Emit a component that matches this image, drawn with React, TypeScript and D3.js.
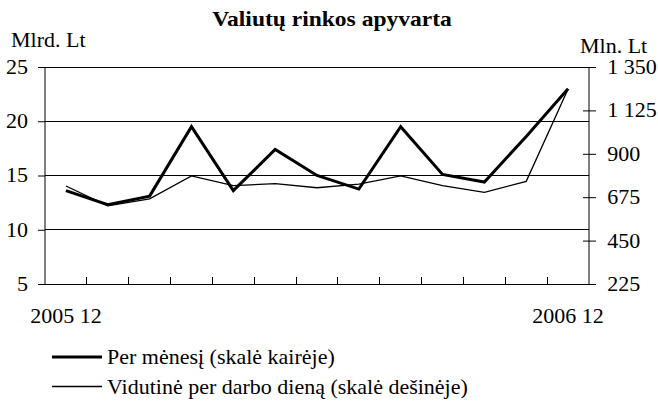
import React, { useEffect, useRef } from 'react';
import * as d3 from 'd3';

const months = [
  '2005 12', '2006 01', '2006 02', '2006 03', '2006 04', '2006 05', '2006 06',
  '2006 07', '2006 08', '2006 09', '2006 10', '2006 11', '2006 12',
];
// Mlrd. Lt, left scale
const perMonth = [13.6, 12.3, 13.1, 19.5, 13.6, 17.4, 15.0, 13.75, 19.5, 15.1, 14.4, 18.6, 23.0];
// Mln. Lt, right scale
const perDay = [733, 630, 666, 785, 735, 745, 724, 743, 785, 735, 700, 757, 1236];

const leftTicks = [5, 10, 15, 20, 25];
const rightTicks = [225, 450, 675, 900, 1125, 1350];
const shownLabels = ['2005 12', '2006 12'];

const W = 658;
const H = 403;
const FONT = '"Liberation Serif", "Times New Roman", serif';
const SX = 1.1; // the source text is a bit wider than plain Times

export default function App() {
  const svgRef = useRef<SVGSVGElement>(null);

  useEffect(() => {
    const svg = d3.select(svgRef.current);
    svg.selectAll('*').remove();

    const left = 45, right = 589, top = 67, bottom = 284;

    const x = d3.scaleBand<string>().domain(months).range([left, right]);
    const yL = d3.scaleLinear().domain([5, 25]).range([bottom, top]);
    const yR = d3.scaleLinear().domain([225, 1350]).range([bottom, top]);

    const label = (tx: number, ty: number, txt: string, size = 20, anchor = 'start', bold = false, sx = SX) =>
      svg.append('text')
        .attr('transform', `translate(${tx},${ty}) scale(${sx},1)`)
        .attr('text-anchor', anchor)
        .style('font-family', FONT)
        .style('font-size', `${size}px`)
        .style('font-weight', bold ? 'bold' : 'normal')
        .text(txt);

    // title + units
    label(332, 26, 'Valiutų rinkos apyvarta', 21, 'middle', true, 1.12);
    label(11, 47, 'Mlrd. Lt');
    label(580, 53, 'Mln. Lt');

    // gridlines
    svg.append('g').selectAll('line')
      .data(leftTicks.filter(d => d > 5))
      .enter().append('line')
      .attr('x1', left).attr('x2', right)
      .attr('y1', d => yL(d)).attr('y2', d => yL(d))
      .attr('stroke', '#000').attr('stroke-width', 1)
      .attr('shape-rendering', 'crispEdges');

    // left axis
    const gl = svg.append('g')
      .attr('transform', `translate(${left},0)`)
      .call(d3.axisLeft(yL).tickValues(leftTicks).tickSize(7).tickPadding(8.5).tickFormat(d3.format('d')));
    gl.select('.domain').remove();
    gl.append('line').attr('y1', top).attr('y2', bottom).attr('stroke', '#000');

    // right axis
    const gr = svg.append('g')
      .attr('transform', `translate(${right},0)`)
      .call(d3.axisRight(yR).tickValues(rightTicks).tickSize(7).tickPadding(9.5)
        .tickFormat(d => d3.format(',')(d as number).replace(',', ' ')));
    gr.select('.domain').remove();
    gr.append('line').attr('y1', top).attr('y2', bottom).attr('stroke', '#000');
    gr.selectAll('.tick line').attr('x1', -6);

    [gl, gr].forEach(g => {
      g.selectAll('.tick text')
        .attr('transform', `scale(${SX},1)`)
        .style('font-family', FONT).style('font-size', '20px').attr('fill', '#000');
      g.selectAll('.tick line').attr('stroke', '#000');
      g.attr('font-size', null).attr('font-family', null);
    });

    // bottom axis
    svg.append('line')
      .attr('x1', left).attr('x2', right).attr('y1', bottom).attr('y2', bottom)
      .attr('stroke', '#000').attr('shape-rendering', 'crispEdges');
    const edges = months.slice(1).map(m => x(m) as number);
    svg.append('g').selectAll('line')
      .data(edges)
      .enter().append('line')
      .attr('x1', d => d).attr('x2', d => d)
      .attr('y1', bottom).attr('y2', bottom - 7)
      .attr('stroke', '#000').attr('shape-rendering', 'crispEdges');

    shownLabels.forEach(m => {
      label((x(m) as number) + x.bandwidth() / 2, 323, m, 20, 'middle');
    });

    const cx = (i: number) => (x(months[i]) as number) + x.bandwidth() / 2;

    const lineL = d3.line<number>().x((_, i) => cx(i)).y(d => yL(d));
    const lineR = d3.line<number>().x((_, i) => cx(i)).y(d => yR(d));

    svg.append('path')
      .attr('d', lineR(perDay))
      .attr('fill', 'none').attr('stroke', '#000').attr('stroke-width', 1.3);
    svg.append('path')
      .attr('d', lineL(perMonth))
      .attr('fill', 'none').attr('stroke', '#000').attr('stroke-width', 3)
      .attr('stroke-linejoin', 'miter');

    // legend
    const legend = [
      { label: 'Per mėnesį (skalė kairėje)', w: 3, y: 357 },
      { label: 'Vidutinė per darbo dieną (skalė dešinėje)', w: 1.3, y: 386.5 },
    ];
    legend.forEach(d => {
      svg.append('line')
        .attr('x1', 52).attr('x2', 102).attr('y1', d.y).attr('y2', d.y)
        .attr('stroke', '#000').attr('stroke-width', d.w);
      label(107, d.y + 7, d.label);
    });
  }, []);

  return (
    <svg
      ref={svgRef}
      width={W}
      height={H}
      style={{ position: 'absolute', left: 0, top: 0, background: '#fff' }}
    />
  );
}
